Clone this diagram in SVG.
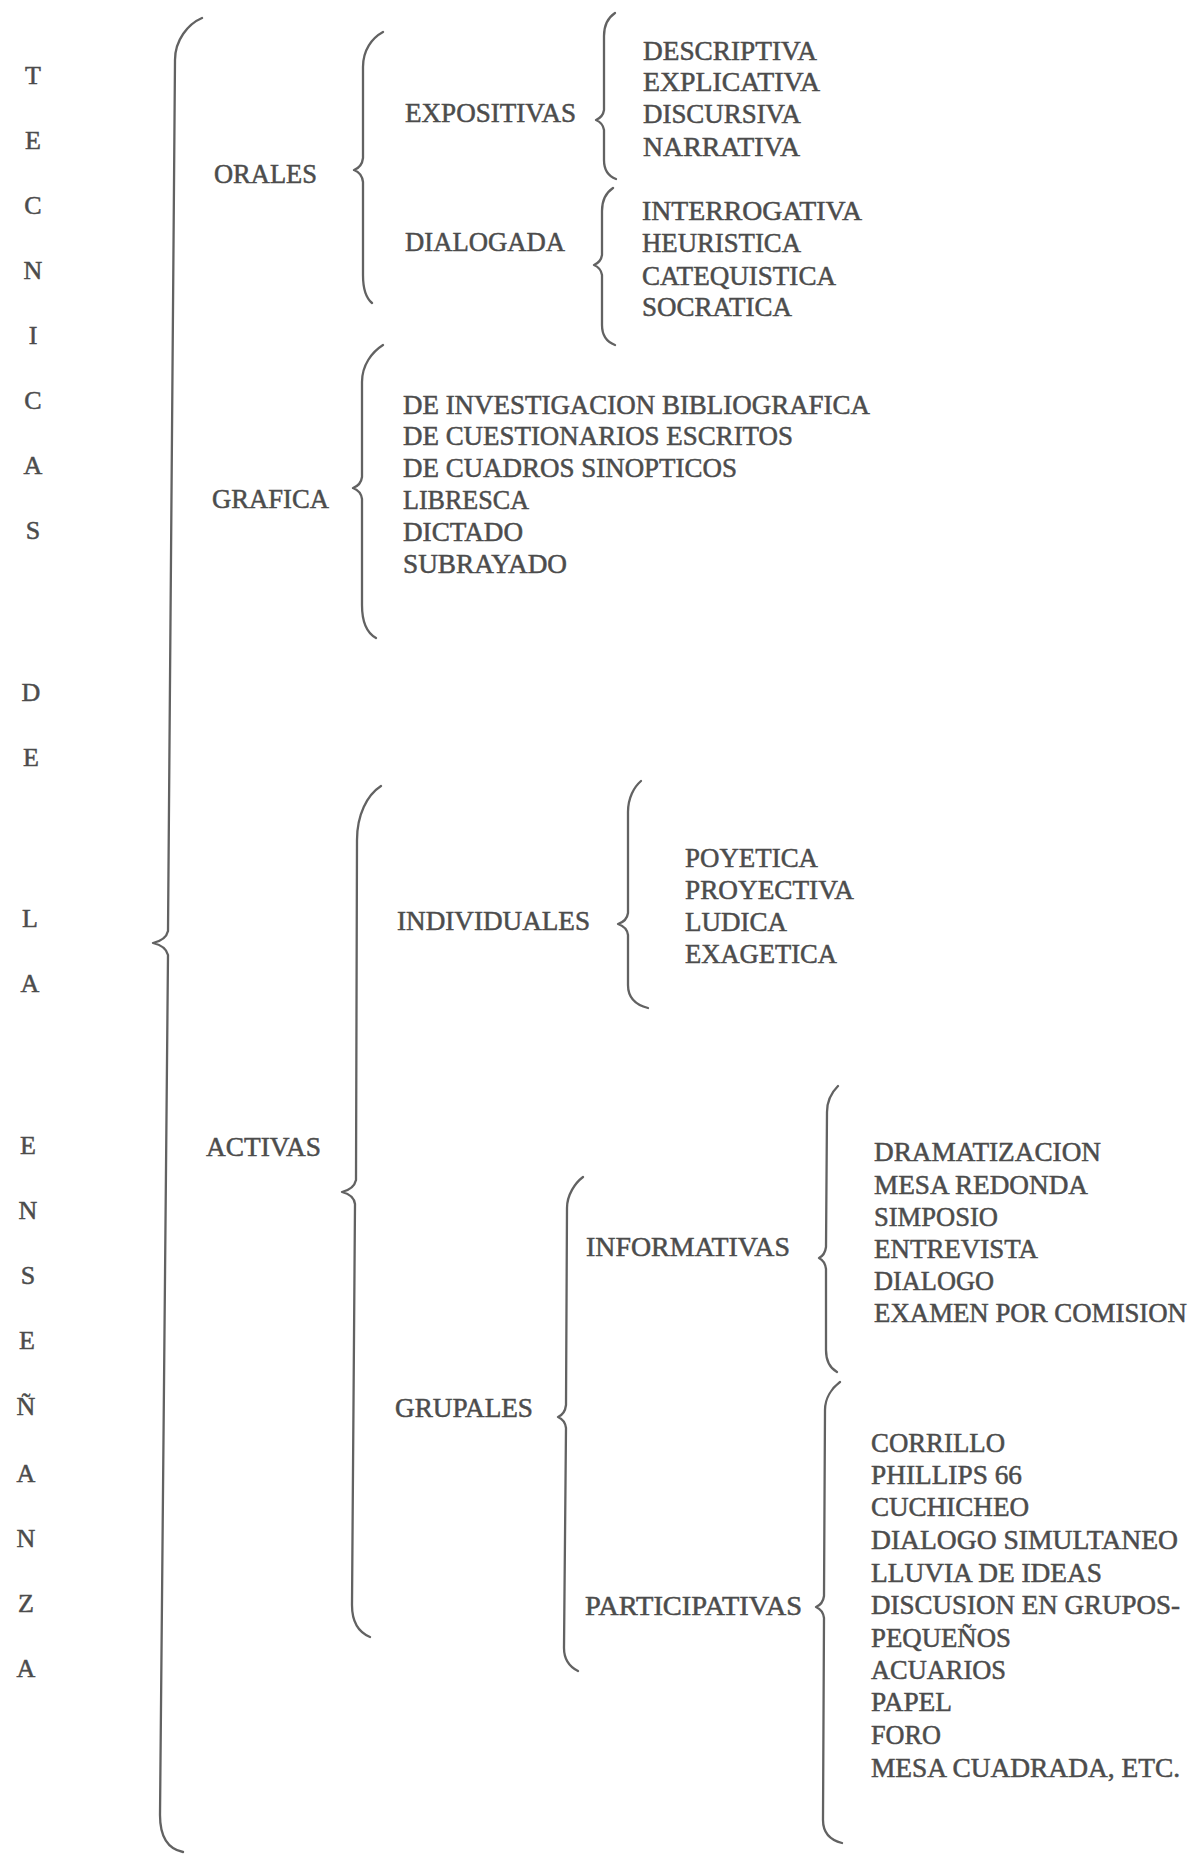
<svg xmlns="http://www.w3.org/2000/svg" width="1192" height="1855" viewBox="0 0 1192 1855">
<style>
.t{font-family:"Liberation Serif","Times New Roman",serif;font-size:26.5px;fill:#4c4c4c;stroke:#4c4c4c;stroke-width:0.5}
.v{font-family:"Liberation Serif","Times New Roman",serif;font-size:26px;fill:#4c4c4c;stroke:#4c4c4c;stroke-width:0.5;text-anchor:middle}
.b{fill:none;stroke:#626262;stroke-width:2.3;stroke-linecap:round;stroke-linejoin:round}
</style>
<rect width="1192" height="1855" fill="#fff"/>
<g id="title">
<text class="v" x="33" y="84">T</text>
<text class="v" x="33" y="149">E</text>
<text class="v" x="33" y="214">C</text>
<text class="v" x="33" y="279">N</text>
<text class="v" x="33" y="344">I</text>
<text class="v" x="33" y="409">C</text>
<text class="v" x="33" y="474">A</text>
<text class="v" x="33" y="539">S</text>
<text class="v" x="31" y="701">D</text>
<text class="v" x="31" y="766">E</text>
<text class="v" x="30" y="927">L</text>
<text class="v" x="30" y="992">A</text>
<text class="v" x="28" y="1154">E</text>
<text class="v" x="28" y="1219">N</text>
<text class="v" x="28" y="1284">S</text>
<text class="v" x="27" y="1349">E</text>
<text class="v" x="26" y="1415">Ñ</text>
<text class="v" x="26" y="1482">A</text>
<text class="v" x="26" y="1547">N</text>
<text class="v" x="26" y="1612">Z</text>
<text class="v" x="26" y="1677">A</text>
</g>
<g id="connectors">
<path class="b" d="M202,18 C188,24 175,40 175,60 L168,931 Q166,940 153,943 Q166,946 168,955 L160,1815 C160,1838 168,1849 183,1852"/>
<path class="b" d="M383,32 C372,38 363,50 363,67 L363,158 Q362,167 354,170 Q362,173 363,182 L363,275 C363,289 366,298 372,303"/>
<path class="b" d="M615,13 C609,17 604,25 604,36 L604,110 Q603,117 596,120 Q603,123 604,130 L604,160 C604,170 608,176 616,179"/>
<path class="b" d="M613,188 C607,192 602,200 602,211 L602,255 Q601,262 594,265 Q601,268 602,275 L602,325 C602,336 607,342 615,345"/>
<path class="b" d="M383,345 C372,352 362,365 362,382 L362,477 Q361,485 353,488 Q361,491 362,499 L362,605 C362,622 367,633 376,638"/>
<path class="b" d="M381,786 C367,795 357,815 357,840 L356,1180 Q354,1189 342,1192 Q354,1195 355,1204 L352,1605 C352,1622 358,1632 370,1637"/>
<path class="b" d="M641,781 C634,787 628,798 628,812 L628,913 Q627,921 618,924 Q627,927 628,935 L628,985 C628,998 636,1005 648,1008"/>
<path class="b" d="M583,1177 C575,1183 567,1195 567,1208 L566,1405 Q565,1414 558,1417 Q565,1420 566,1428 L564,1648 C564,1660 570,1667 578,1671"/>
<path class="b" d="M838,1086 C832,1092 827,1101 827,1112 L826,1247 Q825,1255 819,1258 Q825,1261 826,1269 L826,1350 C826,1362 830,1368 837,1372"/>
<path class="b" d="M840,1382 C832,1388 825,1398 825,1410 L824,1596 Q823,1604 816,1607 Q823,1610 824,1618 L823,1820 C823,1832 830,1840 842,1843"/>
</g>
<g id="orales"><text class="t" x="214" y="183" textLength="103" lengthAdjust="spacingAndGlyphs">ORALES</text></g>
<g id="expositivas"><text class="t" x="405" y="122" textLength="171" lengthAdjust="spacingAndGlyphs">EXPOSITIVAS</text></g>
<g id="expositivas-items">
<text class="t" x="643" y="59.5" textLength="174" lengthAdjust="spacingAndGlyphs">DESCRIPTIVA</text>
<text class="t" x="643" y="91" textLength="177" lengthAdjust="spacingAndGlyphs">EXPLICATIVA</text>
<text class="t" x="643" y="123" textLength="158" lengthAdjust="spacingAndGlyphs">DISCURSIVA</text>
<text class="t" x="643" y="155.5" textLength="157" lengthAdjust="spacingAndGlyphs">NARRATIVA</text>
</g>
<g id="dialogada"><text class="t" x="405" y="250.5" textLength="160" lengthAdjust="spacingAndGlyphs">DIALOGADA</text></g>
<g id="dialogada-items">
<text class="t" x="642" y="220" textLength="220" lengthAdjust="spacingAndGlyphs">INTERROGATIVA</text>
<text class="t" x="642" y="252" textLength="159" lengthAdjust="spacingAndGlyphs">HEURISTICA</text>
<text class="t" x="642" y="285" textLength="194" lengthAdjust="spacingAndGlyphs">CATEQUISTICA</text>
<text class="t" x="642" y="316" textLength="150" lengthAdjust="spacingAndGlyphs">SOCRATICA</text>
</g>
<g id="grafica"><text class="t" x="212" y="508" textLength="117" lengthAdjust="spacingAndGlyphs">GRAFICA</text></g>
<g id="grafica-items">
<text class="t" x="403" y="413.5" textLength="467" lengthAdjust="spacingAndGlyphs">DE INVESTIGACION BIBLIOGRAFICA</text>
<text class="t" x="403" y="445" textLength="390" lengthAdjust="spacingAndGlyphs">DE CUESTIONARIOS ESCRITOS</text>
<text class="t" x="403" y="477" textLength="334" lengthAdjust="spacingAndGlyphs">DE CUADROS SINOPTICOS</text>
<text class="t" x="403" y="509" textLength="126" lengthAdjust="spacingAndGlyphs">LIBRESCA</text>
<text class="t" x="403" y="541" textLength="120" lengthAdjust="spacingAndGlyphs">DICTADO</text>
<text class="t" x="403" y="573" textLength="164" lengthAdjust="spacingAndGlyphs">SUBRAYADO</text>
</g>
<g id="activas"><text class="t" x="206" y="1156" textLength="115" lengthAdjust="spacingAndGlyphs">ACTIVAS</text></g>
<g id="individuales"><text class="t" x="397" y="930" textLength="193" lengthAdjust="spacingAndGlyphs">INDIVIDUALES</text></g>
<g id="individuales-items">
<text class="t" x="685" y="867" textLength="133" lengthAdjust="spacingAndGlyphs">POYETICA</text>
<text class="t" x="685" y="899" textLength="169" lengthAdjust="spacingAndGlyphs">PROYECTIVA</text>
<text class="t" x="685" y="931" textLength="102" lengthAdjust="spacingAndGlyphs">LUDICA</text>
<text class="t" x="685" y="963" textLength="152" lengthAdjust="spacingAndGlyphs">EXAGETICA</text>
</g>
<g id="grupales"><text class="t" x="395" y="1417" textLength="138" lengthAdjust="spacingAndGlyphs">GRUPALES</text></g>
<g id="informativas"><text class="t" x="586" y="1256" textLength="204" lengthAdjust="spacingAndGlyphs">INFORMATIVAS</text></g>
<g id="informativas-items">
<text class="t" x="874" y="1161" textLength="227" lengthAdjust="spacingAndGlyphs">DRAMATIZACION</text>
<text class="t" x="874" y="1193.5" textLength="214" lengthAdjust="spacingAndGlyphs">MESA REDONDA</text>
<text class="t" x="874" y="1225.5" textLength="124" lengthAdjust="spacingAndGlyphs">SIMPOSIO</text>
<text class="t" x="874" y="1257.5" textLength="164" lengthAdjust="spacingAndGlyphs">ENTREVISTA</text>
<text class="t" x="874" y="1290" textLength="120" lengthAdjust="spacingAndGlyphs">DIALOGO</text>
<text class="t" x="874" y="1322" textLength="313" lengthAdjust="spacingAndGlyphs">EXAMEN POR COMISION</text>
</g>
<g id="participativas"><text class="t" x="585" y="1615" textLength="217" lengthAdjust="spacingAndGlyphs">PARTICIPATIVAS</text></g>
<g id="participativas-items">
<text class="t" x="871" y="1451.5" textLength="134" lengthAdjust="spacingAndGlyphs">CORRILLO</text>
<text class="t" x="871" y="1484" textLength="151" lengthAdjust="spacingAndGlyphs">PHILLIPS 66</text>
<text class="t" x="871" y="1516" textLength="158" lengthAdjust="spacingAndGlyphs">CUCHICHEO</text>
<text class="t" x="871" y="1549" textLength="307" lengthAdjust="spacingAndGlyphs">DIALOGO SIMULTANEO</text>
<text class="t" x="871" y="1581.5" textLength="231" lengthAdjust="spacingAndGlyphs">LLUVIA DE IDEAS</text>
<text class="t" x="871" y="1613.5" textLength="309" lengthAdjust="spacingAndGlyphs">DISCUSION EN GRUPOS-</text>
<text class="t" x="871" y="1646.5" textLength="140" lengthAdjust="spacingAndGlyphs">PEQUEÑOS</text>
<text class="t" x="871" y="1678.5" textLength="135" lengthAdjust="spacingAndGlyphs">ACUARIOS</text>
<text class="t" x="871" y="1711" textLength="81" lengthAdjust="spacingAndGlyphs">PAPEL</text>
<text class="t" x="871" y="1743.5" textLength="70" lengthAdjust="spacingAndGlyphs">FORO</text>
<text class="t" x="871" y="1776.5" textLength="309" lengthAdjust="spacingAndGlyphs">MESA CUADRADA, ETC.</text>
</g>
</svg>
